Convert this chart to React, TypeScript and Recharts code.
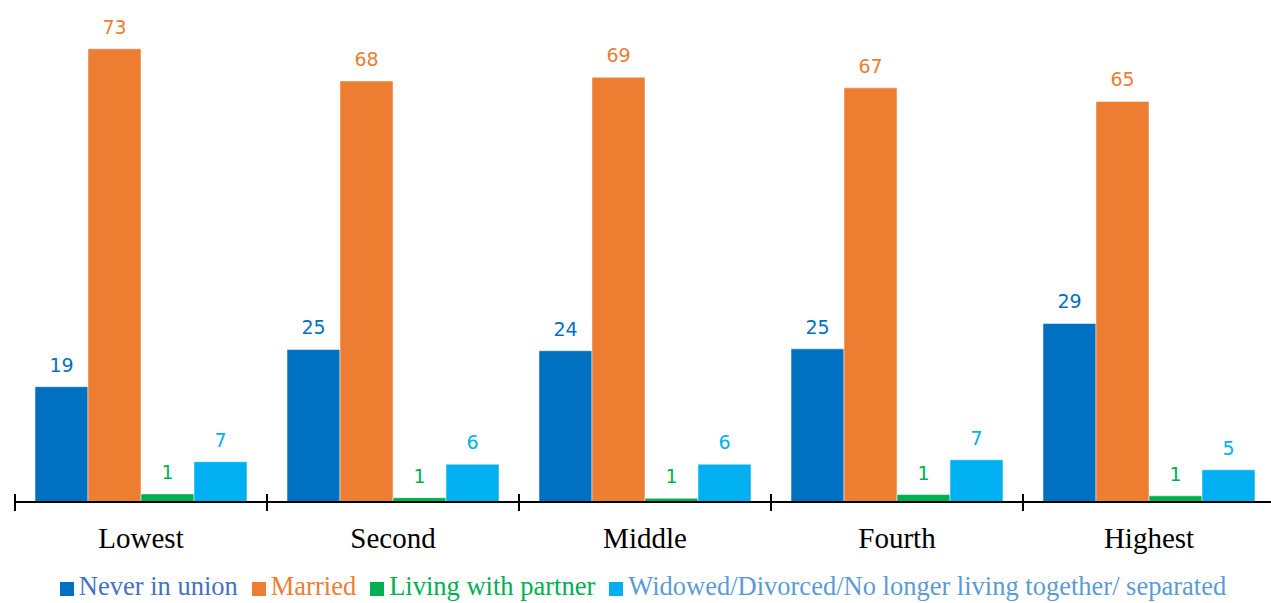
import { Bar, BarChart, LabelList, XAxis, YAxis } from 'recharts';

const categories = ['Lowest', 'Second', 'Middle', 'Fourth', 'Highest'];
const neverInUnion = [18.6, 24.6, 24.4, 24.7, 28.8];
const married = [73.1, 67.9, 68.5, 66.8, 64.6];
const livingWithPartner = [1.3, 0.7, 0.6, 1.2, 1.0];
const widowed = [6.5, 6.1, 6.1, 6.8, 5.2];

const series = [
  { key: 'never', name: 'Never in union', color: '#0070c0', text: '#4472c4', values: neverInUnion },
  { key: 'married', name: 'Married', color: '#ed7d31', text: '#ed7d31', values: married },
  { key: 'partner', name: 'Living with partner', color: '#00b050', text: '#00b050', values: livingWithPartner },
  { key: 'widowed', name: 'Widowed/Divorced/No longer living together/ separated', color: '#00b0f0', text: '#5b9bd5', values: widowed },
];

const data = categories.map((name, i) => {
  const row: Record<string, string | number> = { name };
  series.forEach((s) => {
    row[s.key] = s.values[i];
  });
  return row;
});

const CHART_W = 1290;
const MARGIN_X = 15;
const BAND = (CHART_W - MARGIN_X * 2) / categories.length;

function CategoryTick(props: any) {
  const { x, y, payload } = props;
  return (
    <g>
      <line x1={x - BAND / 2} x2={x - BAND / 2} y1={y - 8} y2={y + 9} stroke='#000' strokeWidth={2} />
      <line x1={x + BAND / 2} x2={x + BAND / 2} y1={y - 8} y2={y + 9} stroke='#000' strokeWidth={2} />
      <text
        x={x}
        y={y + 46}
        textAnchor='middle'
        fontFamily='"Liberation Serif", "Times New Roman", serif'
        fontSize={29}
        fill='#000'
      >
        {payload.value}
      </text>
    </g>
  );
}

export default function App() {
  return (
    <div
      style={{
        position: 'absolute',
        left: 0,
        top: 0,
        width: 1271,
        height: 603,
        overflow: 'hidden',
        background: '#fff',
      }}
    >
      <BarChart
        width={CHART_W}
        height={603}
        data={data}
        margin={{ top: 6, right: MARGIN_X, bottom: 0, left: MARGIN_X }}
        barCategoryGap={20}
        barGap={0}
      >
        <YAxis hide domain={[0, 80]} />
        <XAxis
          dataKey='name'
          height={101}
          tickLine={false}
          tickSize={0}
          tickMargin={0}
          axisLine={{ stroke: '#000', strokeWidth: 2 }}
          tick={<CategoryTick />}
          interval={0}
        />
        {series.map((s) => (
          <Bar
            key={s.key}
            dataKey={s.key}
            name={s.name}
            fill={s.color}
            stroke='#ffffff'
            strokeOpacity={0.5}
            strokeWidth={1}
            isAnimationActive={false}
          >
            <LabelList
              dataKey={s.key}
              position='top'
              offset={15}
              formatter={(v: any) => Math.round(Number(v))}
              fill={s.color}
              fontSize={19}
              fontFamily='"DejaVu Sans", Verdana, sans-serif'
            />
          </Bar>
        ))}
      </BarChart>
      <div
        style={{
          position: 'absolute',
          left: 10,
          width: 1280,
          top: 570,
          display: 'flex',
          justifyContent: 'center',
          fontFamily: '"Liberation Serif", "Times New Roman", serif',
          fontSize: 26.5,
          lineHeight: '32px',
          whiteSpace: 'nowrap',
        }}
      >
        {series.map((s) => (
          <div key={s.key} style={{ display: 'flex', alignItems: 'center', marginRight: 14 }}>
            <span
              style={{
                display: 'inline-block',
                width: 14,
                height: 14,
                background: s.color,
                marginRight: 5,
                marginTop: 6,
              }}
            />
            <span style={{ color: s.text }}>{s.name}</span>
          </div>
        ))}
      </div>
    </div>
  );
}
